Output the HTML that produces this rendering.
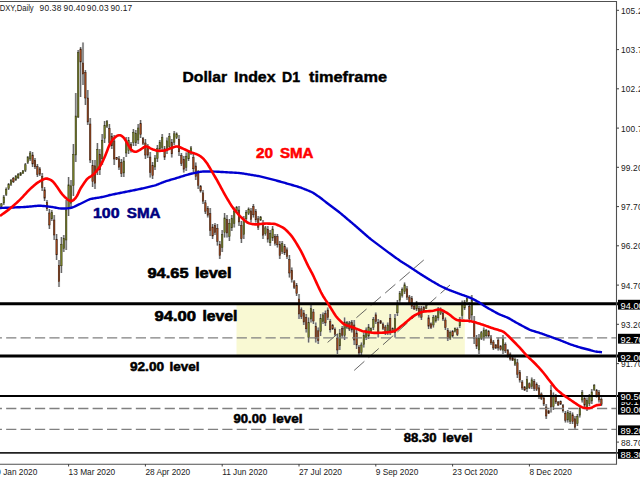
<!DOCTYPE html><html><head><meta charset="utf-8"><style>html,body{margin:0;padding:0;background:#fff;overflow:hidden}svg{display:block}</style></head><body><svg width="640" height="480" viewBox="0 0 640 480">
<rect width="640" height="480" fill="#fff"/>
<rect x="236.5" y="303.4" width="228.3" height="52.3" fill="#f9f9d3"/>
<path d="M1.4 203.0V207.5M3.8 195.0V205.0M6.2 187.5V196.0M8.6 183.0V190.0M11.0 179.0V186.0M13.4 177.0V183.0M15.8 175.0V181.0M18.2 173.0V179.0M20.6 172.0V176.0M23.0 170.0V174.0M25.4 163.0V172.0M27.8 156.0V164.0M30.2 151.0V161.0M32.6 152.0V167.0M35.0 158.0V169.0M37.4 164.0V177.0M39.8 167.0V176.0M42.2 173.0V191.0M44.6 187.0V201.0M47.0 200.0V211.0M49.4 209.0V229.0M51.8 210.0V221.0M54.2 215.0V240.0M56.6 234.0V260.0M59.0 260.0V287.0M61.4 237.0V273.0M63.8 235.0V252.0M66.2 200.0V250.0M68.6 177.0V216.0M71.0 180.0V209.0M73.4 144.0V196.0M75.8 93.0V162.0M78.2 50.0V118.0M80.6 47.0V97.0M83.0 42.5V85.0M85.4 70.0V105.0M87.8 90.0V125.0M90.2 118.0V163.0M92.6 160.0V187.0M95.0 160.0V189.0M97.4 143.0V175.0M99.8 149.0V175.0M102.2 134.0V165.0M104.6 121.0V143.0M107.0 120.0V128.0M109.4 124.0V147.0M111.8 133.0V149.0M114.2 135.0V165.0M116.6 157.0V160.0M119.0 156.0V170.0M121.4 159.0V177.0M123.8 157.0V177.0M126.2 137.0V157.0M128.6 137.0V154.0M131.0 142.0V152.5M133.4 129.0V146.0M135.8 130.0V146.0M138.2 124.0V144.0M140.6 120.0V138.0M143.0 137.0V145.0M145.4 139.0V159.0M147.8 144.0V158.0M150.2 152.0V177.5M152.6 162.0V179.0M155.0 155.0V170.0M157.4 145.0V162.0M159.8 140.0V151.0M162.2 134.0V151.0M164.6 146.0V160.0M167.0 137.5V154.0M169.4 133.0V150.0M171.8 139.0V157.5M174.2 131.0V145.0M176.6 132.5V139.0M179.0 135.0V156.0M181.4 153.0V166.0M183.8 156.0V172.5M186.2 152.5V171.0M188.6 150.0V161.0M191.0 146.0V155.0M193.4 154.0V172.5M195.8 162.5V180.0M198.2 170.0V189.0M200.6 185.0V192.5M203.0 190.0V204.0M205.4 200.0V214.0M207.8 206.0V217.5M210.2 208.0V236.0M212.6 224.0V239.0M215.0 223.0V235.0M217.4 224.0V245.6M219.8 241.0V259.0M222.2 230.0V252.0M224.6 213.0V237.5M227.0 215.0V237.5M229.4 219.0V241.0M231.8 215.0V231.0M234.2 207.5V227.5M236.6 206.0V212.5M239.0 206.0V226.0M241.4 221.0V243.0M243.8 216.0V239.0M246.2 210.0V221.0M248.6 207.5V215.0M251.0 208.0V222.5M253.4 204.0V217.5M255.8 209.0V222.5M258.2 216.0V230.0M260.6 216.0V221.0M263.0 220.0V239.0M265.4 226.0V235.6M267.8 226.0V242.5M270.2 230.0V246.0M272.6 226.0V241.0M275.0 234.0V245.6M277.4 234.0V247.5M279.8 241.0V259.0M282.2 241.0V254.0M284.6 244.0V255.0M287.0 247.5V259.0M289.4 255.0V277.5M291.8 267.5V282.5M294.2 280.0V289.0M296.6 283.0V296.0M299.0 294.0V319.0M301.4 307.5V319.0M303.8 310.0V325.0M306.2 314.0V332.5M308.6 317.5V342.5M311.0 305.0V322.5M313.4 309.0V324.0M315.8 322.5V342.5M318.2 327.5V344.0M320.6 314.0V336.0M323.0 312.5V324.0M325.4 310.6V326.0M327.8 307.5V320.0M330.2 319.0V332.5M332.6 324.0V330.0M335.0 327.5V336.0M337.4 334.0V354.0M339.8 329.0V350.0M342.2 326.0V337.5M344.6 317.5V340.0M347.0 321.0V329.0M349.4 321.0V331.0M351.8 320.0V332.5M354.2 320.0V345.0M356.6 329.0V349.0M359.0 345.0V355.0M361.4 342.5V355.0M363.8 332.5V347.5M366.2 327.5V340.0M368.6 324.0V339.0M371.0 327.5V332.5M373.4 317.0V330.0M375.8 312.5V324.0M378.2 319.0V337.5M380.6 320.0V324.0M383.0 322.5V330.0M385.4 325.0V335.0M387.8 322.5V335.0M390.2 314.0V335.0M392.6 327.5V332.5M395.0 314.0V337.5M397.4 300.0V316.0M399.8 291.0V302.5M402.2 287.5V297.5M404.6 282.5V294.0M407.0 286.0V300.0M409.4 295.0V305.0M411.8 296.0V309.0M414.2 305.0V310.0M416.6 301.0V311.0M419.0 306.0V317.5M421.4 306.0V320.0M423.8 306.0V312.5M426.2 305.0V309.0M428.6 315.0V329.0M431.0 322.5V329.0M433.4 315.0V327.5M435.8 315.0V322.5M438.2 307.0V320.6M440.6 307.5V315.0M443.0 311.0V321.0M445.4 317.5V330.0M447.8 328.0V341.0M450.2 330.6V340.0M452.6 330.0V337.5M455.0 327.5V332.5M457.4 327.5V336.0M459.8 317.0V328.0M462.2 300.6V319.0M464.6 300.0V310.0M467.0 297.5V302.5M469.4 302.5V322.5M471.8 295.0V320.0M474.2 316.0V344.0M476.6 335.0V349.0M479.0 334.0V354.0M481.4 331.0V340.0M483.8 327.5V340.6M486.2 329.0V337.5M488.6 330.0V337.5M491.0 335.0V345.0M493.4 340.0V350.0M495.8 344.0V349.0M498.2 337.5V350.6M500.6 345.0V350.6M503.0 335.0V354.0M505.4 342.5V353.0M507.8 349.0V357.5M510.2 352.5V360.6M512.6 357.0V361.0M515.0 357.5V366.0M517.4 359.0V378.0M519.8 370.0V382.5M522.2 380.0V390.0M524.6 386.0V391.0M527.0 376.0V392.0M529.4 382.5V389.0M531.8 377.5V389.0M534.2 379.0V391.0M536.6 382.5V391.0M539.0 385.0V399.0M541.4 392.5V400.0M543.8 396.0V406.0M546.2 404.0V419.0M548.6 410.0V414.0M551.0 385.0V412.5M553.4 392.5V410.0M555.8 394.0V404.0M558.2 401.0V406.0M560.6 400.6V405.0M563.0 404.0V412.5M565.4 411.0V422.5M567.8 410.0V422.5M570.2 411.0V424.0M572.6 412.5V424.0M575.0 416.0V430.0M577.4 414.0V426.0M579.8 406.0V417.5M582.2 390.0V402.5M584.6 396.0V407.5M587.0 397.5V411.0M589.4 394.0V406.0M591.8 389.0V404.0M594.2 384.0V391.0M596.6 389.0V397.5M599.0 390.0V402.5M601.4 397.5V406.0" stroke="#c4c4c4" stroke-width="2.2" fill="none"/>
<path d="M1.4 203.0V207.5M3.8 195.0V205.0M6.2 187.5V196.0M8.6 183.0V190.0M11.0 179.0V186.0M13.4 177.0V183.0M15.8 175.0V181.0M18.2 173.0V179.0M20.6 172.0V176.0M23.0 170.0V174.0M25.4 163.0V172.0M27.8 156.0V164.0M30.2 151.0V161.0M32.6 152.0V167.0M35.0 158.0V169.0M37.4 164.0V177.0M39.8 167.0V176.0M42.2 173.0V191.0M44.6 187.0V201.0M47.0 200.0V211.0M49.4 209.0V229.0M51.8 210.0V221.0M54.2 215.0V240.0M56.6 234.0V260.0M59.0 260.0V287.0M61.4 237.0V273.0M63.8 235.0V252.0M66.2 200.0V250.0M68.6 177.0V216.0M71.0 180.0V209.0M73.4 144.0V196.0M75.8 93.0V162.0M78.2 50.0V118.0M80.6 47.0V97.0M83.0 42.5V85.0M85.4 70.0V105.0M87.8 90.0V125.0M90.2 118.0V163.0M92.6 160.0V187.0M95.0 160.0V189.0M97.4 143.0V175.0M99.8 149.0V175.0M102.2 134.0V165.0M104.6 121.0V143.0M107.0 120.0V128.0M109.4 124.0V147.0M111.8 133.0V149.0M114.2 135.0V165.0M116.6 157.0V160.0M119.0 156.0V170.0M121.4 159.0V177.0M123.8 157.0V177.0M126.2 137.0V157.0M128.6 137.0V154.0M131.0 142.0V152.5M133.4 129.0V146.0M135.8 130.0V146.0M138.2 124.0V144.0M140.6 120.0V138.0M143.0 137.0V145.0M145.4 139.0V159.0M147.8 144.0V158.0M150.2 152.0V177.5M152.6 162.0V179.0M155.0 155.0V170.0M157.4 145.0V162.0M159.8 140.0V151.0M162.2 134.0V151.0M164.6 146.0V160.0M167.0 137.5V154.0M169.4 133.0V150.0M171.8 139.0V157.5M174.2 131.0V145.0M176.6 132.5V139.0M179.0 135.0V156.0M181.4 153.0V166.0M183.8 156.0V172.5M186.2 152.5V171.0M188.6 150.0V161.0M191.0 146.0V155.0M193.4 154.0V172.5M195.8 162.5V180.0M198.2 170.0V189.0M200.6 185.0V192.5M203.0 190.0V204.0M205.4 200.0V214.0M207.8 206.0V217.5M210.2 208.0V236.0M212.6 224.0V239.0M215.0 223.0V235.0M217.4 224.0V245.6M219.8 241.0V259.0M222.2 230.0V252.0M224.6 213.0V237.5M227.0 215.0V237.5M229.4 219.0V241.0M231.8 215.0V231.0M234.2 207.5V227.5M236.6 206.0V212.5M239.0 206.0V226.0M241.4 221.0V243.0M243.8 216.0V239.0M246.2 210.0V221.0M248.6 207.5V215.0M251.0 208.0V222.5M253.4 204.0V217.5M255.8 209.0V222.5M258.2 216.0V230.0M260.6 216.0V221.0M263.0 220.0V239.0M265.4 226.0V235.6M267.8 226.0V242.5M270.2 230.0V246.0M272.6 226.0V241.0M275.0 234.0V245.6M277.4 234.0V247.5M279.8 241.0V259.0M282.2 241.0V254.0M284.6 244.0V255.0M287.0 247.5V259.0M289.4 255.0V277.5M291.8 267.5V282.5M294.2 280.0V289.0M296.6 283.0V296.0M299.0 294.0V319.0M301.4 307.5V319.0M303.8 310.0V325.0M306.2 314.0V332.5M308.6 317.5V342.5M311.0 305.0V322.5M313.4 309.0V324.0M315.8 322.5V342.5M318.2 327.5V344.0M320.6 314.0V336.0M323.0 312.5V324.0M325.4 310.6V326.0M327.8 307.5V320.0M330.2 319.0V332.5M332.6 324.0V330.0M335.0 327.5V336.0M337.4 334.0V354.0M339.8 329.0V350.0M342.2 326.0V337.5M344.6 317.5V340.0M347.0 321.0V329.0M349.4 321.0V331.0M351.8 320.0V332.5M354.2 320.0V345.0M356.6 329.0V349.0M359.0 345.0V355.0M361.4 342.5V355.0M363.8 332.5V347.5M366.2 327.5V340.0M368.6 324.0V339.0M371.0 327.5V332.5M373.4 317.0V330.0M375.8 312.5V324.0M378.2 319.0V337.5M380.6 320.0V324.0M383.0 322.5V330.0M385.4 325.0V335.0M387.8 322.5V335.0M390.2 314.0V335.0M392.6 327.5V332.5M395.0 314.0V337.5M397.4 300.0V316.0M399.8 291.0V302.5M402.2 287.5V297.5M404.6 282.5V294.0M407.0 286.0V300.0M409.4 295.0V305.0M411.8 296.0V309.0M414.2 305.0V310.0M416.6 301.0V311.0M419.0 306.0V317.5M421.4 306.0V320.0M423.8 306.0V312.5M426.2 305.0V309.0M428.6 315.0V329.0M431.0 322.5V329.0M433.4 315.0V327.5M435.8 315.0V322.5M438.2 307.0V320.6M440.6 307.5V315.0M443.0 311.0V321.0M445.4 317.5V330.0M447.8 328.0V341.0M450.2 330.6V340.0M452.6 330.0V337.5M455.0 327.5V332.5M457.4 327.5V336.0M459.8 317.0V328.0M462.2 300.6V319.0M464.6 300.0V310.0M467.0 297.5V302.5M469.4 302.5V322.5M471.8 295.0V320.0M474.2 316.0V344.0M476.6 335.0V349.0M479.0 334.0V354.0M481.4 331.0V340.0M483.8 327.5V340.6M486.2 329.0V337.5M488.6 330.0V337.5M491.0 335.0V345.0M493.4 340.0V350.0M495.8 344.0V349.0M498.2 337.5V350.6M500.6 345.0V350.6M503.0 335.0V354.0M505.4 342.5V353.0M507.8 349.0V357.5M510.2 352.5V360.6M512.6 357.0V361.0M515.0 357.5V366.0M517.4 359.0V378.0M519.8 370.0V382.5M522.2 380.0V390.0M524.6 386.0V391.0M527.0 376.0V392.0M529.4 382.5V389.0M531.8 377.5V389.0M534.2 379.0V391.0M536.6 382.5V391.0M539.0 385.0V399.0M541.4 392.5V400.0M543.8 396.0V406.0M546.2 404.0V419.0M548.6 410.0V414.0M551.0 385.0V412.5M553.4 392.5V410.0M555.8 394.0V404.0M558.2 401.0V406.0M560.6 400.6V405.0M563.0 404.0V412.5M565.4 411.0V422.5M567.8 410.0V422.5M570.2 411.0V424.0M572.6 412.5V424.0M575.0 416.0V430.0M577.4 414.0V426.0M579.8 406.0V417.5M582.2 390.0V402.5M584.6 396.0V407.5M587.0 397.5V411.0M589.4 394.0V406.0M591.8 389.0V404.0M594.2 384.0V391.0M596.6 389.0V397.5M599.0 390.0V402.5M601.4 397.5V406.0" stroke="#505050" stroke-width="0.9" fill="none"/>
<g fill="#7a8428" stroke="#30300c" stroke-width="0.45"><rect x="0.70" y="203.9" width="1.4" height="2.7"/><rect x="3.10" y="197.0" width="1.4" height="6.0"/><rect x="5.50" y="189.2" width="1.4" height="5.1"/><rect x="7.90" y="184.4" width="1.4" height="4.2"/><rect x="10.30" y="180.4" width="1.4" height="4.2"/><rect x="15.10" y="176.2" width="1.4" height="3.6"/><rect x="17.50" y="174.2" width="1.4" height="3.6"/><rect x="19.90" y="172.8" width="1.4" height="2.4"/><rect x="22.30" y="170.8" width="1.4" height="2.4"/><rect x="24.70" y="164.8" width="1.4" height="5.4"/><rect x="27.10" y="157.6" width="1.4" height="4.8"/><rect x="29.50" y="153.0" width="1.4" height="6.0"/><rect x="51.10" y="212.2" width="1.4" height="6.6"/><rect x="60.70" y="244.2" width="1.4" height="21.6"/><rect x="63.10" y="238.4" width="1.4" height="10.2"/><rect x="65.50" y="210.0" width="1.4" height="30.0"/><rect x="67.90" y="184.8" width="1.4" height="23.4"/><rect x="70.30" y="185.8" width="1.4" height="17.4"/><rect x="72.70" y="154.4" width="1.4" height="31.2"/><rect x="75.10" y="116.0" width="1.4" height="39.0"/><rect x="77.50" y="52.5" width="1.4" height="64.5"/><rect x="96.70" y="149.4" width="1.4" height="19.2"/><rect x="101.50" y="140.2" width="1.4" height="18.6"/><rect x="103.90" y="125.4" width="1.4" height="13.2"/><rect x="106.30" y="121.6" width="1.4" height="4.8"/><rect x="123.10" y="161.0" width="1.4" height="12.0"/><rect x="125.50" y="141.0" width="1.4" height="12.0"/><rect x="127.90" y="140.4" width="1.4" height="10.2"/><rect x="132.70" y="132.4" width="1.4" height="10.2"/><rect x="135.10" y="133.2" width="1.4" height="9.6"/><rect x="137.50" y="128.0" width="1.4" height="12.0"/><rect x="154.30" y="158.0" width="1.4" height="9.0"/><rect x="156.70" y="148.4" width="1.4" height="10.2"/><rect x="159.10" y="142.2" width="1.4" height="6.6"/><rect x="161.50" y="137.4" width="1.4" height="10.2"/><rect x="166.30" y="140.8" width="1.4" height="9.9"/><rect x="168.70" y="136.4" width="1.4" height="10.2"/><rect x="173.50" y="133.8" width="1.4" height="8.4"/><rect x="175.90" y="133.8" width="1.4" height="3.9"/><rect x="185.50" y="156.2" width="1.4" height="11.1"/><rect x="187.90" y="152.2" width="1.4" height="6.6"/><rect x="190.30" y="147.8" width="1.4" height="5.4"/><rect x="221.50" y="234.4" width="1.4" height="13.2"/><rect x="223.90" y="217.9" width="1.4" height="14.7"/><rect x="228.70" y="223.4" width="1.4" height="13.2"/><rect x="231.10" y="218.2" width="1.4" height="9.6"/><rect x="233.50" y="211.5" width="1.4" height="12.0"/><rect x="235.90" y="207.3" width="1.4" height="3.9"/><rect x="243.10" y="220.6" width="1.4" height="13.8"/><rect x="245.50" y="212.2" width="1.4" height="6.6"/><rect x="247.90" y="209.0" width="1.4" height="4.5"/><rect x="259.90" y="217.0" width="1.4" height="3.0"/><rect x="264.70" y="227.9" width="1.4" height="5.8"/><rect x="269.50" y="233.2" width="1.4" height="9.6"/><rect x="271.90" y="229.0" width="1.4" height="9.0"/><rect x="281.50" y="243.6" width="1.4" height="7.8"/><rect x="307.90" y="322.5" width="1.4" height="15.0"/><rect x="310.30" y="308.5" width="1.4" height="10.5"/><rect x="319.90" y="318.4" width="1.4" height="13.2"/><rect x="322.30" y="314.8" width="1.4" height="6.9"/><rect x="339.10" y="333.2" width="1.4" height="12.6"/><rect x="343.90" y="322.0" width="1.4" height="13.5"/><rect x="346.30" y="322.6" width="1.4" height="4.8"/><rect x="360.70" y="345.0" width="1.4" height="7.5"/><rect x="363.10" y="335.5" width="1.4" height="9.0"/><rect x="365.50" y="330.0" width="1.4" height="7.5"/><rect x="367.90" y="327.0" width="1.4" height="9.0"/><rect x="370.30" y="328.5" width="1.4" height="3.0"/><rect x="372.70" y="319.6" width="1.4" height="7.8"/><rect x="387.10" y="325.0" width="1.4" height="7.5"/><rect x="394.30" y="318.7" width="1.4" height="14.1"/><rect x="396.70" y="303.2" width="1.4" height="9.6"/><rect x="399.10" y="293.3" width="1.4" height="6.9"/><rect x="401.50" y="289.5" width="1.4" height="6.0"/><rect x="403.90" y="284.8" width="1.4" height="6.9"/><rect x="415.90" y="303.0" width="1.4" height="6.0"/><rect x="425.50" y="305.8" width="1.4" height="2.4"/><rect x="432.70" y="317.5" width="1.4" height="7.5"/><rect x="435.10" y="316.5" width="1.4" height="4.5"/><rect x="437.50" y="309.7" width="1.4" height="8.2"/><rect x="439.90" y="309.0" width="1.4" height="4.5"/><rect x="449.50" y="332.5" width="1.4" height="5.6"/><rect x="454.30" y="328.5" width="1.4" height="3.0"/><rect x="459.10" y="319.2" width="1.4" height="6.6"/><rect x="461.50" y="304.3" width="1.4" height="11.0"/><rect x="463.90" y="302.0" width="1.4" height="6.0"/><rect x="466.30" y="298.5" width="1.4" height="3.0"/><rect x="471.10" y="300.0" width="1.4" height="15.0"/><rect x="478.30" y="338.0" width="1.4" height="12.0"/><rect x="480.70" y="332.8" width="1.4" height="5.4"/><rect x="483.10" y="330.1" width="1.4" height="7.9"/><rect x="485.50" y="330.7" width="1.4" height="5.1"/><rect x="502.30" y="338.8" width="1.4" height="11.4"/><rect x="514.30" y="359.2" width="1.4" height="5.1"/><rect x="526.30" y="379.2" width="1.4" height="9.6"/><rect x="531.10" y="379.8" width="1.4" height="6.9"/><rect x="552.70" y="396.0" width="1.4" height="10.5"/><rect x="567.10" y="412.5" width="1.4" height="7.5"/><rect x="569.50" y="413.6" width="1.4" height="7.8"/><rect x="576.70" y="416.4" width="1.4" height="7.2"/><rect x="579.10" y="408.3" width="1.4" height="6.9"/><rect x="581.50" y="392.5" width="1.4" height="7.5"/><rect x="586.30" y="400.2" width="1.4" height="8.1"/><rect x="588.70" y="396.4" width="1.4" height="7.2"/><rect x="591.10" y="392.0" width="1.4" height="9.0"/><rect x="593.50" y="385.4" width="1.4" height="4.2"/></g>
<g fill="#a44a1c" stroke="#301608" stroke-width="0.45"><rect x="12.70" y="178.2" width="1.4" height="3.6"/><rect x="31.90" y="155.0" width="1.4" height="9.0"/><rect x="34.30" y="160.2" width="1.4" height="6.6"/><rect x="36.70" y="166.6" width="1.4" height="7.8"/><rect x="39.10" y="168.8" width="1.4" height="5.4"/><rect x="41.50" y="176.6" width="1.4" height="10.8"/><rect x="43.90" y="189.8" width="1.4" height="8.4"/><rect x="46.30" y="202.2" width="1.4" height="6.6"/><rect x="48.70" y="213.0" width="1.4" height="12.0"/><rect x="53.50" y="220.0" width="1.4" height="15.0"/><rect x="55.90" y="239.2" width="1.4" height="15.6"/><rect x="58.30" y="265.4" width="1.4" height="16.2"/><rect x="79.90" y="49.0" width="1.4" height="13.0"/><rect x="82.30" y="63.0" width="1.4" height="11.0"/><rect x="84.70" y="72.5" width="1.4" height="25.5"/><rect x="87.10" y="98.0" width="1.4" height="24.0"/><rect x="89.50" y="124.0" width="1.4" height="36.0"/><rect x="91.90" y="165.4" width="1.4" height="16.2"/><rect x="94.30" y="165.8" width="1.4" height="17.4"/><rect x="99.10" y="154.2" width="1.4" height="15.6"/><rect x="108.70" y="128.6" width="1.4" height="13.8"/><rect x="111.10" y="136.2" width="1.4" height="9.6"/><rect x="113.50" y="141.0" width="1.4" height="18.0"/><rect x="115.90" y="157.6" width="1.4" height="1.8"/><rect x="118.30" y="158.8" width="1.4" height="8.4"/><rect x="120.70" y="162.6" width="1.4" height="10.8"/><rect x="130.30" y="144.1" width="1.4" height="6.3"/><rect x="139.90" y="123.6" width="1.4" height="10.8"/><rect x="142.30" y="138.6" width="1.4" height="4.8"/><rect x="144.70" y="143.0" width="1.4" height="12.0"/><rect x="147.10" y="146.8" width="1.4" height="8.4"/><rect x="149.50" y="157.1" width="1.4" height="15.3"/><rect x="151.90" y="165.4" width="1.4" height="10.2"/><rect x="163.90" y="148.8" width="1.4" height="8.4"/><rect x="171.10" y="142.7" width="1.4" height="11.1"/><rect x="178.30" y="139.2" width="1.4" height="12.6"/><rect x="180.70" y="155.6" width="1.4" height="7.8"/><rect x="183.10" y="159.3" width="1.4" height="9.9"/><rect x="192.70" y="157.7" width="1.4" height="11.1"/><rect x="195.10" y="166.0" width="1.4" height="10.5"/><rect x="197.50" y="173.8" width="1.4" height="11.4"/><rect x="199.90" y="186.5" width="1.4" height="4.5"/><rect x="202.30" y="192.8" width="1.4" height="8.4"/><rect x="204.70" y="202.8" width="1.4" height="8.4"/><rect x="207.10" y="208.3" width="1.4" height="6.9"/><rect x="209.50" y="213.6" width="1.4" height="16.8"/><rect x="211.90" y="227.0" width="1.4" height="9.0"/><rect x="214.30" y="225.4" width="1.4" height="7.2"/><rect x="216.70" y="228.3" width="1.4" height="13.0"/><rect x="219.10" y="244.6" width="1.4" height="10.8"/><rect x="226.30" y="219.5" width="1.4" height="13.5"/><rect x="238.30" y="210.0" width="1.4" height="12.0"/><rect x="240.70" y="225.4" width="1.4" height="13.2"/><rect x="250.30" y="210.9" width="1.4" height="8.7"/><rect x="252.70" y="206.7" width="1.4" height="8.1"/><rect x="255.10" y="211.7" width="1.4" height="8.1"/><rect x="257.50" y="218.8" width="1.4" height="8.4"/><rect x="262.30" y="223.8" width="1.4" height="11.4"/><rect x="267.10" y="229.3" width="1.4" height="9.9"/><rect x="274.30" y="236.3" width="1.4" height="7.0"/><rect x="276.70" y="236.7" width="1.4" height="8.1"/><rect x="279.10" y="244.6" width="1.4" height="10.8"/><rect x="283.90" y="246.2" width="1.4" height="6.6"/><rect x="286.30" y="249.8" width="1.4" height="6.9"/><rect x="288.70" y="259.5" width="1.4" height="13.5"/><rect x="291.10" y="270.5" width="1.4" height="9.0"/><rect x="293.50" y="281.8" width="1.4" height="5.4"/><rect x="295.90" y="285.6" width="1.4" height="7.8"/><rect x="298.30" y="299.0" width="1.4" height="15.0"/><rect x="300.70" y="309.8" width="1.4" height="6.9"/><rect x="303.10" y="313.0" width="1.4" height="9.0"/><rect x="305.50" y="317.7" width="1.4" height="11.1"/><rect x="312.70" y="312.0" width="1.4" height="9.0"/><rect x="315.10" y="326.5" width="1.4" height="12.0"/><rect x="317.50" y="330.8" width="1.4" height="9.9"/><rect x="324.70" y="313.7" width="1.4" height="9.2"/><rect x="327.10" y="310.0" width="1.4" height="7.5"/><rect x="329.50" y="321.7" width="1.4" height="8.1"/><rect x="331.90" y="325.2" width="1.4" height="3.6"/><rect x="334.30" y="329.2" width="1.4" height="5.1"/><rect x="336.70" y="338.0" width="1.4" height="12.0"/><rect x="341.50" y="328.3" width="1.4" height="6.9"/><rect x="348.70" y="323.0" width="1.4" height="6.0"/><rect x="351.10" y="322.5" width="1.4" height="7.5"/><rect x="353.50" y="325.0" width="1.4" height="15.0"/><rect x="355.90" y="333.0" width="1.4" height="12.0"/><rect x="358.30" y="347.0" width="1.4" height="6.0"/><rect x="375.10" y="314.8" width="1.4" height="6.9"/><rect x="377.50" y="322.7" width="1.4" height="11.1"/><rect x="379.90" y="320.8" width="1.4" height="2.4"/><rect x="382.30" y="324.0" width="1.4" height="4.5"/><rect x="384.70" y="327.0" width="1.4" height="6.0"/><rect x="389.50" y="318.2" width="1.4" height="12.6"/><rect x="391.90" y="328.5" width="1.4" height="3.0"/><rect x="406.30" y="288.8" width="1.4" height="8.4"/><rect x="408.70" y="297.0" width="1.4" height="6.0"/><rect x="411.10" y="298.6" width="1.4" height="7.8"/><rect x="413.50" y="306.0" width="1.4" height="3.0"/><rect x="418.30" y="308.3" width="1.4" height="6.9"/><rect x="420.70" y="308.8" width="1.4" height="8.4"/><rect x="423.10" y="307.3" width="1.4" height="3.9"/><rect x="427.90" y="317.8" width="1.4" height="8.4"/><rect x="430.30" y="323.8" width="1.4" height="3.9"/><rect x="442.30" y="313.0" width="1.4" height="6.0"/><rect x="444.70" y="320.0" width="1.4" height="7.5"/><rect x="447.10" y="330.6" width="1.4" height="7.8"/><rect x="451.90" y="331.5" width="1.4" height="4.5"/><rect x="456.70" y="329.2" width="1.4" height="5.1"/><rect x="468.70" y="306.5" width="1.4" height="12.0"/><rect x="473.50" y="321.6" width="1.4" height="16.8"/><rect x="475.90" y="337.8" width="1.4" height="8.4"/><rect x="487.90" y="331.5" width="1.4" height="4.5"/><rect x="490.30" y="337.0" width="1.4" height="6.0"/><rect x="492.70" y="342.0" width="1.4" height="6.0"/><rect x="495.10" y="345.0" width="1.4" height="3.0"/><rect x="497.50" y="340.1" width="1.4" height="7.9"/><rect x="499.90" y="346.1" width="1.4" height="3.4"/><rect x="504.70" y="344.6" width="1.4" height="6.3"/><rect x="507.10" y="350.7" width="1.4" height="5.1"/><rect x="509.50" y="354.1" width="1.4" height="4.9"/><rect x="511.90" y="357.8" width="1.4" height="2.4"/><rect x="516.70" y="362.8" width="1.4" height="11.4"/><rect x="519.10" y="372.5" width="1.4" height="7.5"/><rect x="521.50" y="382.0" width="1.4" height="6.0"/><rect x="523.90" y="387.0" width="1.4" height="3.0"/><rect x="528.70" y="383.8" width="1.4" height="3.9"/><rect x="533.50" y="381.4" width="1.4" height="7.2"/><rect x="535.90" y="384.2" width="1.4" height="5.1"/><rect x="538.30" y="387.8" width="1.4" height="8.4"/><rect x="540.70" y="394.0" width="1.4" height="4.5"/><rect x="543.10" y="398.0" width="1.4" height="6.0"/><rect x="545.50" y="407.0" width="1.4" height="9.0"/><rect x="547.90" y="410.8" width="1.4" height="2.4"/><rect x="550.30" y="390.5" width="1.4" height="16.5"/><rect x="555.10" y="396.0" width="1.4" height="6.0"/><rect x="557.50" y="402.0" width="1.4" height="3.0"/><rect x="559.90" y="401.5" width="1.4" height="2.6"/><rect x="562.30" y="405.7" width="1.4" height="5.1"/><rect x="564.70" y="413.3" width="1.4" height="6.9"/><rect x="571.90" y="414.8" width="1.4" height="6.9"/><rect x="574.30" y="418.8" width="1.4" height="8.4"/><rect x="583.90" y="398.3" width="1.4" height="6.9"/><rect x="595.90" y="390.7" width="1.4" height="5.1"/><rect x="598.30" y="392.5" width="1.4" height="7.5"/><rect x="600.70" y="399.2" width="1.4" height="5.1"/></g>
<g stroke="#4a4a4a" stroke-width="0.85" fill="none"><path d="M327.6 342.4L423.75 260" stroke-dasharray="13.43 5.53"/><path d="M354.2 370.4L450 285" stroke-dasharray="13.66 5.62"/></g>
<path d="M0 303.75H618" stroke="#000" stroke-width="3"/>
<path d="M0 356.08H618" stroke="#000" stroke-width="3"/>
<path d="M0 396.12H618" stroke="#000" stroke-width="2"/>
<path d="M0 452.90H618" stroke="#222" stroke-width="1.7"/>
<path d="M-8.26 337.87H616" stroke="#808080" stroke-width="1.3" stroke-dasharray="10.2 4.21"/>
<path d="M-8.26 408.52H616" stroke="#808080" stroke-width="1.3" stroke-dasharray="10.2 4.21"/>
<path d="M-8.26 429.45H616" stroke="#808080" stroke-width="1.3" stroke-dasharray="10.2 4.21"/>
<path d="M0.0 208.00L1.0 207.96L2.0 207.92L3.0 207.88L4.0 207.84L5.0 207.80L6.0 207.76L7.0 207.72L8.0 207.68L9.0 207.64L10.0 207.60L11.0 207.56L12.0 207.52L13.0 207.48L14.0 207.44L15.0 207.40L16.0 207.36L17.0 207.32L18.0 207.28L19.0 207.24L20.0 207.20L21.0 207.16L22.0 207.12L23.0 207.08L24.0 207.03L25.0 206.97L26.0 206.89L27.0 206.81L28.0 206.72L29.0 206.63L30.0 206.53L31.0 206.44L32.0 206.35L33.0 206.25L34.0 206.16L35.0 206.07L36.0 205.97L37.0 205.88L38.0 205.80L39.0 205.74L40.0 205.73L41.0 205.76L42.0 205.84L43.0 205.94L44.0 206.05L45.0 206.16L46.0 206.27L47.0 206.38L48.0 206.50L49.0 206.61L50.0 206.72L51.0 206.85L52.0 206.98L53.0 207.14L54.0 207.31L55.0 207.50L56.0 207.70L57.0 207.90L58.0 208.09L59.0 208.25L60.0 208.38L61.0 208.45L62.0 208.49L63.0 208.50L64.0 208.50L65.0 208.49L66.0 208.47L67.0 208.41L68.0 208.31L69.0 208.17L70.0 207.98L71.0 207.76L72.0 207.49L73.0 207.15L74.0 206.76L75.0 206.32L76.0 205.86L77.0 205.40L78.0 204.93L79.0 204.46L80.0 203.98L81.0 203.49L82.0 203.00L83.0 202.50L84.0 202.00L85.0 201.50L86.0 201.00L87.0 200.51L88.0 200.02L89.0 199.58L90.0 199.21L91.0 198.92L92.0 198.70L93.0 198.53L94.0 198.36L95.0 198.20L96.0 198.04L97.0 197.88L98.0 197.72L99.0 197.56L100.0 197.40L101.0 197.22L102.0 197.03L103.0 196.82L104.0 196.58L105.0 196.33L106.0 196.07L107.0 195.80L108.0 195.54L109.0 195.28L110.0 195.04L111.0 194.82L112.0 194.60L113.0 194.40L114.0 194.20L115.0 194.00L116.0 193.80L117.0 193.60L118.0 193.40L119.0 193.20L120.0 193.00L121.0 192.80L122.0 192.60L123.0 192.40L124.0 192.20L125.0 192.00L126.0 191.80L127.0 191.60L128.0 191.40L129.0 191.20L130.0 191.00L131.0 190.80L132.0 190.60L133.0 190.40L134.0 190.20L135.0 190.00L136.0 189.80L137.0 189.60L138.0 189.40L139.0 189.19L140.0 188.98L141.0 188.76L142.0 188.53L143.0 188.30L144.0 188.07L145.0 187.83L146.0 187.60L147.0 187.37L148.0 187.13L149.0 186.90L150.0 186.67L151.0 186.43L152.0 186.20L153.0 185.95L154.0 185.69L155.0 185.40L156.0 185.06L157.0 184.69L158.0 184.30L159.0 183.90L160.0 183.50L161.0 183.10L162.0 182.70L163.0 182.31L164.0 181.93L165.0 181.56L166.0 181.23L167.0 180.92L168.0 180.61L169.0 180.32L170.0 180.02L171.0 179.72L172.0 179.43L173.0 179.13L174.0 178.84L175.0 178.54L176.0 178.24L177.0 177.94L178.0 177.64L179.0 177.33L180.0 177.02L181.0 176.71L182.0 176.40L183.0 176.08L184.0 175.77L185.0 175.46L186.0 175.15L187.0 174.84L188.0 174.53L189.0 174.24L190.0 173.97L191.0 173.73L192.0 173.51L193.0 173.30L194.0 173.10L195.0 172.90L196.0 172.70L197.0 172.50L198.0 172.30L199.0 172.10L200.0 171.91L201.0 171.73L202.0 171.59L203.0 171.50L204.0 171.46L205.0 171.45L206.0 171.46L207.0 171.47L208.0 171.49L209.0 171.50L210.0 171.52L211.0 171.54L212.0 171.55L213.0 171.57L214.0 171.59L215.0 171.62L216.0 171.67L217.0 171.71L218.0 171.77L219.0 171.82L220.0 171.88L221.0 171.94L222.0 171.99L223.0 172.05L224.0 172.10L225.0 172.16L226.0 172.22L227.0 172.27L228.0 172.33L229.0 172.38L230.0 172.44L231.0 172.50L232.0 172.55L233.0 172.61L234.0 172.66L235.0 172.72L236.0 172.78L237.0 172.83L238.0 172.90L239.0 172.97L240.0 173.07L241.0 173.19L242.0 173.34L243.0 173.50L244.0 173.66L245.0 173.83L246.0 173.99L247.0 174.16L248.0 174.32L249.0 174.49L250.0 174.65L251.0 174.81L252.0 174.98L253.0 175.14L254.0 175.31L255.0 175.48L256.0 175.64L257.0 175.81L258.0 175.98L259.0 176.16L260.0 176.36L261.0 176.58L262.0 176.83L263.0 177.08L264.0 177.34L265.0 177.60L266.0 177.86L267.0 178.12L268.0 178.38L269.0 178.64L270.0 178.90L271.0 179.16L272.0 179.42L273.0 179.68L274.0 179.94L275.0 180.20L276.0 180.46L277.0 180.72L278.0 180.98L279.0 181.25L280.0 181.52L281.0 181.80L282.0 182.08L283.0 182.37L284.0 182.66L285.0 182.95L286.0 183.24L287.0 183.53L288.0 183.82L289.0 184.11L290.0 184.40L291.0 184.69L292.0 184.98L293.0 185.27L294.0 185.56L295.0 185.85L296.0 186.14L297.0 186.43L298.0 186.73L299.0 187.04L300.0 187.37L301.0 187.73L302.0 188.11L303.0 188.50L304.0 188.90L305.0 189.30L306.0 189.70L307.0 190.10L308.0 190.50L309.0 190.90L310.0 191.31L311.0 191.75L312.0 192.23L313.0 192.77L314.0 193.39L315.0 194.05L316.0 194.73L317.0 195.42L318.0 196.12L319.0 196.83L320.0 197.55L321.0 198.30L322.0 199.07L323.0 199.84L324.0 200.62L325.0 201.40L326.0 202.18L327.0 202.96L328.0 203.74L329.0 204.51L330.0 205.28L331.0 206.04L332.0 206.80L333.0 207.55L334.0 208.30L335.0 209.05L336.0 209.80L337.0 210.55L338.0 211.31L339.0 212.07L340.0 212.86L341.0 213.67L342.0 214.50L343.0 215.34L344.0 216.19L345.0 217.03L346.0 217.88L347.0 218.73L348.0 219.57L349.0 220.42L350.0 221.27L351.0 222.11L352.0 222.96L353.0 223.81L354.0 224.66L355.0 225.52L356.0 226.38L357.0 227.25L358.0 228.12L359.0 228.99L360.0 229.87L361.0 230.74L362.0 231.61L363.0 232.49L364.0 233.36L365.0 234.23L366.0 235.11L367.0 235.98L368.0 236.84L369.0 237.70L370.0 238.52L371.0 239.32L372.0 240.09L373.0 240.85L374.0 241.60L375.0 242.35L376.0 243.10L377.0 243.85L378.0 244.60L379.0 245.35L380.0 246.10L381.0 246.85L382.0 247.60L383.0 248.35L384.0 249.10L385.0 249.85L386.0 250.60L387.0 251.35L388.0 252.10L389.0 252.84L390.0 253.58L391.0 254.31L392.0 255.04L393.0 255.76L394.0 256.48L395.0 257.20L396.0 257.92L397.0 258.64L398.0 259.35L399.0 260.06L400.0 260.74L401.0 261.41L402.0 262.05L403.0 262.69L404.0 263.32L405.0 263.95L406.0 264.58L407.0 265.21L408.0 265.84L409.0 266.48L410.0 267.12L411.0 267.77L412.0 268.43L413.0 269.10L414.0 269.76L415.0 270.42L416.0 271.09L417.0 271.75L418.0 272.42L419.0 273.08L420.0 273.73L421.0 274.37L422.0 275.00L423.0 275.62L424.0 276.25L425.0 276.87L426.0 277.50L427.0 278.12L428.0 278.75L429.0 279.36L430.0 279.97L431.0 280.57L432.0 281.16L433.0 281.74L434.0 282.32L435.0 282.90L436.0 283.48L437.0 284.06L438.0 284.63L439.0 285.19L440.0 285.73L441.0 286.24L442.0 286.73L443.0 287.21L444.0 287.68L445.0 288.15L446.0 288.62L447.0 289.08L448.0 289.52L449.0 289.94L450.0 290.34L451.0 290.72L452.0 291.09L453.0 291.46L454.0 291.82L455.0 292.19L456.0 292.56L457.0 292.93L458.0 293.30L459.0 293.66L460.0 294.03L461.0 294.40L462.0 294.76L463.0 295.12L464.0 295.48L465.0 295.84L466.0 296.20L467.0 296.56L468.0 296.92L469.0 297.29L470.0 297.68L471.0 298.11L472.0 298.58L473.0 299.08L474.0 299.60L475.0 300.13L476.0 300.67L477.0 301.22L478.0 301.79L479.0 302.39L480.0 303.02L481.0 303.67L482.0 304.33L483.0 305.00L484.0 305.66L485.0 306.31L486.0 306.93L487.0 307.53L488.0 308.11L489.0 308.68L490.0 309.24L491.0 309.80L492.0 310.36L493.0 310.92L494.0 311.48L495.0 312.04L496.0 312.59L497.0 313.13L498.0 313.65L499.0 314.13L500.0 314.57L501.0 314.99L502.0 315.40L503.0 315.80L504.0 316.20L505.0 316.60L506.0 317.01L507.0 317.43L508.0 317.89L509.0 318.39L510.0 318.93L511.0 319.51L512.0 320.10L513.0 320.70L514.0 321.30L515.0 321.88L516.0 322.46L517.0 323.02L518.0 323.57L519.0 324.11L520.0 324.64L521.0 325.18L522.0 325.71L523.0 326.25L524.0 326.79L525.0 327.32L526.0 327.86L527.0 328.39L528.0 328.91L529.0 329.41L530.0 329.85L531.0 330.24L532.0 330.58L533.0 330.90L534.0 331.20L535.0 331.50L536.0 331.80L537.0 332.10L538.0 332.40L539.0 332.71L540.0 333.04L541.0 333.37L542.0 333.72L543.0 334.08L544.0 334.44L545.0 334.80L546.0 335.16L547.0 335.52L548.0 335.88L549.0 336.24L550.0 336.60L551.0 336.96L552.0 337.32L553.0 337.68L554.0 338.04L555.0 338.40L556.0 338.76L557.0 339.12L558.0 339.48L559.0 339.85L560.0 340.22L561.0 340.61L562.0 341.00L563.0 341.40L564.0 341.80L565.0 342.20L566.0 342.60L567.0 343.00L568.0 343.39L569.0 343.78L570.0 344.16L571.0 344.51L572.0 344.85L573.0 345.19L574.0 345.52L575.0 345.85L576.0 346.18L577.0 346.51L578.0 346.83L579.0 347.15L580.0 347.45L581.0 347.73L582.0 347.99L583.0 348.25L584.0 348.50L585.0 348.75L586.0 349.00L587.0 349.25L588.0 349.50L589.0 349.76L590.0 350.03L591.0 350.31L592.0 350.60L593.0 350.89L594.0 351.15L595.0 351.38L596.0 351.56L597.0 351.70L598.0 351.82L599.0 351.93L600.0 352.04L601.0 352.14L602.0 352.25" stroke="#0000d0" stroke-width="2.4" fill="none" stroke-linejoin="round"/>
<path d="M0.0 216.00L1.0 215.27L2.0 214.54L3.0 213.81L4.0 213.08L5.0 212.35L6.0 211.62L7.0 210.89L8.0 210.15L9.0 209.39L10.0 208.60L11.0 207.77L12.0 206.91L13.0 206.03L14.0 205.14L15.0 204.25L16.0 203.36L17.0 202.47L18.0 201.57L19.0 200.64L20.0 199.68L21.0 198.67L22.0 197.63L23.0 196.56L24.0 195.48L25.0 194.40L26.0 193.32L27.0 192.24L28.0 191.18L29.0 190.13L30.0 189.13L31.0 188.18L32.0 187.28L33.0 186.40L34.0 185.54L35.0 184.68L36.0 183.85L37.0 183.08L38.0 182.38L39.0 181.76L40.0 181.19L41.0 180.65L42.0 180.12L43.0 179.60L44.0 179.13L45.0 178.75L46.0 178.57L47.0 178.62L48.0 178.87L49.0 179.22L50.0 179.64L51.0 180.15L52.0 180.82L53.0 181.71L54.0 182.82L55.0 184.10L56.0 185.46L57.0 186.86L58.0 188.30L59.0 189.76L60.0 191.23L61.0 192.65L62.0 193.98L63.0 195.17L64.0 196.22L65.0 197.17L66.0 198.05L67.0 198.90L68.0 199.69L69.0 200.39L70.0 200.89L71.0 201.08L72.0 200.88L73.0 200.36L74.0 199.60L75.0 198.64L76.0 197.41L77.0 195.82L78.0 193.85L79.0 191.66L80.0 189.55L81.0 187.73L82.0 186.18L83.0 184.75L84.0 183.28L85.0 181.79L86.0 180.38L87.0 179.16L88.0 178.20L89.0 177.46L90.0 176.84L91.0 176.24L92.0 175.59L93.0 174.82L94.0 173.89L95.0 172.81L96.0 171.63L97.0 170.40L98.0 169.12L99.0 167.75L100.0 166.23L101.0 164.51L102.0 162.63L103.0 160.64L104.0 158.52L105.0 156.24L106.0 153.78L107.0 151.19L108.0 148.58L109.0 146.11L110.0 143.95L111.0 142.17L112.0 140.72L113.0 139.47L114.0 138.35L115.0 137.38L116.0 136.57L117.0 135.92L118.0 135.44L119.0 135.19L120.0 135.23L121.0 135.56L122.0 136.14L123.0 136.96L124.0 138.08L125.0 139.49L126.0 141.12L127.0 142.86L128.0 144.62L129.0 146.34L130.0 147.93L131.0 149.28L132.0 150.33L133.0 151.09L134.0 151.59L135.0 151.80L136.0 151.73L137.0 151.42L138.0 150.97L139.0 150.44L140.0 149.86L141.0 149.21L142.0 148.52L143.0 147.82L144.0 147.16L145.0 146.66L146.0 146.44L147.0 146.56L148.0 146.95L149.0 147.49L150.0 148.05L151.0 148.58L152.0 149.03L153.0 149.42L154.0 149.78L155.0 150.12L156.0 150.42L157.0 150.66L158.0 150.80L159.0 150.86L160.0 150.85L161.0 150.81L162.0 150.75L163.0 150.68L164.0 150.57L165.0 150.38L166.0 150.10L167.0 149.75L168.0 149.35L169.0 148.95L170.0 148.54L171.0 148.14L172.0 147.76L173.0 147.40L174.0 147.07L175.0 146.79L176.0 146.58L177.0 146.49L178.0 146.59L179.0 146.87L180.0 147.28L181.0 147.74L182.0 148.22L183.0 148.68L184.0 149.12L185.0 149.55L186.0 149.99L187.0 150.45L188.0 150.92L189.0 151.40L190.0 151.86L191.0 152.26L192.0 152.62L193.0 152.96L194.0 153.28L195.0 153.61L196.0 153.97L197.0 154.37L198.0 154.84L199.0 155.38L200.0 155.99L201.0 156.67L202.0 157.46L203.0 158.40L204.0 159.48L205.0 160.67L206.0 161.96L207.0 163.34L208.0 164.84L209.0 166.45L210.0 168.14L211.0 169.87L212.0 171.60L213.0 173.33L214.0 175.04L215.0 176.76L216.0 178.48L217.0 180.22L218.0 182.00L219.0 183.83L220.0 185.67L221.0 187.53L222.0 189.40L223.0 191.25L224.0 193.08L225.0 194.88L226.0 196.62L227.0 198.32L228.0 200.00L229.0 201.66L230.0 203.31L231.0 204.92L232.0 206.45L233.0 207.87L234.0 209.17L235.0 210.39L236.0 211.58L237.0 212.75L238.0 213.90L239.0 215.02L240.0 216.09L241.0 217.09L242.0 218.03L243.0 218.95L244.0 219.84L245.0 220.72L246.0 221.54L247.0 222.26L248.0 222.81L249.0 223.21L250.0 223.50L251.0 223.74L252.0 223.95L253.0 224.15L254.0 224.31L255.0 224.40L256.0 224.41L257.0 224.36L258.0 224.27L259.0 224.16L260.0 224.05L261.0 223.94L262.0 223.83L263.0 223.73L264.0 223.64L265.0 223.59L266.0 223.56L267.0 223.57L268.0 223.59L269.0 223.62L270.0 223.65L271.0 223.68L272.0 223.72L273.0 223.77L274.0 223.88L275.0 224.07L276.0 224.37L277.0 224.76L278.0 225.21L279.0 225.67L280.0 226.13L281.0 226.61L282.0 227.10L283.0 227.66L284.0 228.33L285.0 229.13L286.0 230.04L287.0 231.01L288.0 232.01L289.0 233.04L290.0 234.12L291.0 235.31L292.0 236.62L293.0 238.04L294.0 239.52L295.0 241.06L296.0 242.64L297.0 244.29L298.0 245.98L299.0 247.70L300.0 249.45L301.0 251.24L302.0 253.11L303.0 255.10L304.0 257.20L305.0 259.38L306.0 261.56L307.0 263.67L308.0 265.69L309.0 267.60L310.0 269.45L311.0 271.29L312.0 273.20L313.0 275.20L314.0 277.30L315.0 279.46L316.0 281.66L317.0 283.84L318.0 286.00L319.0 288.13L320.0 290.22L321.0 292.25L322.0 294.17L323.0 295.95L324.0 297.58L325.0 299.11L326.0 300.60L327.0 302.09L328.0 303.61L329.0 305.17L330.0 306.77L331.0 308.38L332.0 310.01L333.0 311.63L334.0 313.22L335.0 314.76L336.0 316.19L337.0 317.47L338.0 318.61L339.0 319.66L340.0 320.67L341.0 321.65L342.0 322.59L343.0 323.43L344.0 324.13L345.0 324.67L346.0 325.09L347.0 325.45L348.0 325.78L349.0 326.10L350.0 326.43L351.0 326.76L352.0 327.09L353.0 327.45L354.0 327.82L355.0 328.21L356.0 328.60L357.0 329.00L358.0 329.40L359.0 329.80L360.0 330.19L361.0 330.56L362.0 330.90L363.0 331.18L364.0 331.40L365.0 331.59L366.0 331.76L367.0 331.92L368.0 332.08L369.0 332.24L370.0 332.40L371.0 332.55L372.0 332.70L373.0 332.81L374.0 332.89L375.0 332.92L376.0 332.91L377.0 332.88L378.0 332.85L379.0 332.81L380.0 332.78L381.0 332.74L382.0 332.71L383.0 332.67L384.0 332.62L385.0 332.55L386.0 332.46L387.0 332.36L388.0 332.25L389.0 332.13L390.0 332.01L391.0 331.89L392.0 331.75L393.0 331.55L394.0 331.24L395.0 330.77L396.0 330.16L397.0 329.44L398.0 328.68L399.0 327.91L400.0 327.13L401.0 326.34L402.0 325.56L403.0 324.76L404.0 323.94L405.0 323.10L406.0 322.24L407.0 321.38L408.0 320.51L409.0 319.65L410.0 318.78L411.0 317.93L412.0 317.12L413.0 316.38L414.0 315.73L415.0 315.17L416.0 314.66L417.0 314.16L418.0 313.68L419.0 313.20L420.0 312.73L421.0 312.29L422.0 311.93L423.0 311.66L424.0 311.49L425.0 311.39L426.0 311.33L427.0 311.28L428.0 311.22L429.0 311.17L430.0 311.12L431.0 311.04L432.0 310.93L433.0 310.77L434.0 310.57L435.0 310.32L436.0 310.07L437.0 309.81L438.0 309.59L439.0 309.47L440.0 309.51L441.0 309.76L442.0 310.18L443.0 310.69L444.0 311.24L445.0 311.80L446.0 312.36L447.0 312.95L448.0 313.59L449.0 314.28L450.0 315.04L451.0 315.85L452.0 316.67L453.0 317.49L454.0 318.28L455.0 318.99L456.0 319.56L457.0 319.95L458.0 320.19L459.0 320.34L460.0 320.45L461.0 320.54L462.0 320.60L463.0 320.64L464.0 320.67L465.0 320.69L466.0 320.71L467.0 320.74L468.0 320.78L469.0 320.85L470.0 320.97L471.0 321.17L472.0 321.43L473.0 321.72L474.0 322.02L475.0 322.32L476.0 322.62L477.0 322.93L478.0 323.23L479.0 323.54L480.0 323.84L481.0 324.15L482.0 324.47L483.0 324.80L484.0 325.15L485.0 325.50L486.0 325.86L487.0 326.22L488.0 326.58L489.0 326.94L490.0 327.30L491.0 327.65L492.0 328.00L493.0 328.33L494.0 328.64L495.0 328.95L496.0 329.26L497.0 329.56L498.0 329.86L499.0 330.16L500.0 330.47L501.0 330.79L502.0 331.15L503.0 331.60L504.0 332.20L505.0 332.97L506.0 333.86L507.0 334.82L508.0 335.79L509.0 336.78L510.0 337.77L511.0 338.76L512.0 339.76L513.0 340.76L514.0 341.77L515.0 342.77L516.0 343.78L517.0 344.79L518.0 345.80L519.0 346.84L520.0 347.91L521.0 349.03L522.0 350.18L523.0 351.35L524.0 352.52L525.0 353.67L526.0 354.77L527.0 355.82L528.0 356.81L529.0 357.77L530.0 358.71L531.0 359.65L532.0 360.59L533.0 361.54L534.0 362.50L535.0 363.49L536.0 364.51L537.0 365.57L538.0 366.64L539.0 367.72L540.0 368.81L541.0 369.92L542.0 371.06L543.0 372.25L544.0 373.50L545.0 374.78L546.0 376.08L547.0 377.38L548.0 378.69L549.0 379.99L550.0 381.28L551.0 382.57L552.0 383.86L553.0 385.14L554.0 386.40L555.0 387.60L556.0 388.72L557.0 389.72L558.0 390.63L559.0 391.48L560.0 392.32L561.0 393.13L562.0 393.93L563.0 394.69L564.0 395.42L565.0 396.13L566.0 396.83L567.0 397.53L568.0 398.22L569.0 398.91L570.0 399.60L571.0 400.28L572.0 400.96L573.0 401.64L574.0 402.32L575.0 402.99L576.0 403.66L577.0 404.33L578.0 404.99L579.0 405.64L580.0 406.23L581.0 406.73L582.0 407.13L583.0 407.43L584.0 407.68L585.0 407.90L586.0 408.09L587.0 408.20L588.0 408.21L589.0 408.13L590.0 407.96L591.0 407.72L592.0 407.38L593.0 406.93L594.0 406.40L595.0 405.85L596.0 405.41L597.0 405.12L598.0 404.96L599.0 404.87L600.0 404.82L601.0 404.77" stroke="#ff0000" stroke-width="2.6" fill="none" stroke-linejoin="round"/>
<path d="M0 1.5H616.5V464.2H0" stroke="#505050" stroke-width="1.1" fill="none"/>
<text x="182.50" y="82.0" textLength="44.51" lengthAdjust="spacingAndGlyphs" style="font-family:'Liberation Sans',sans-serif;font-weight:bold;font-size:14.0px" fill="#000" stroke="#000" stroke-width="0.4">Dollar</text>
<text x="234.00" y="82.0" textLength="41.53" lengthAdjust="spacingAndGlyphs" style="font-family:'Liberation Sans',sans-serif;font-weight:bold;font-size:14.0px" fill="#000" stroke="#000" stroke-width="0.4">Index</text>
<text x="281.97" y="82.0" textLength="18.06" lengthAdjust="spacingAndGlyphs" style="font-family:'Liberation Sans',sans-serif;font-weight:bold;font-size:14.0px" fill="#000" stroke="#000" stroke-width="0.4">D1</text>
<text x="308.98" y="82.0" textLength="78.03" lengthAdjust="spacingAndGlyphs" style="font-family:'Liberation Sans',sans-serif;font-weight:bold;font-size:14.0px" fill="#000" stroke="#000" stroke-width="0.4">timeframe</text>
<text x="255.98" y="158.0" textLength="17.03" lengthAdjust="spacingAndGlyphs" style="font-family:'Liberation Sans',sans-serif;font-weight:bold;font-size:13.8px" fill="#ff0000" stroke="#ff0000" stroke-width="0.5">20</text>
<text x="279.99" y="158.0" textLength="33.54" lengthAdjust="spacingAndGlyphs" style="font-family:'Liberation Sans',sans-serif;font-weight:bold;font-size:13.8px" fill="#ff0000" stroke="#ff0000" stroke-width="0.5">SMA</text>
<text x="93.02" y="218.0" textLength="26.51" lengthAdjust="spacingAndGlyphs" style="font-family:'Liberation Sans',sans-serif;font-weight:bold;font-size:13.8px" fill="#000080" stroke="#000080" stroke-width="0.5">100</text>
<text x="126.75" y="218.0" textLength="33.76" lengthAdjust="spacingAndGlyphs" style="font-family:'Liberation Sans',sans-serif;font-weight:bold;font-size:13.8px" fill="#000080" stroke="#000080" stroke-width="0.5">SMA</text>
<text x="147.47" y="277.8" textLength="41.07" lengthAdjust="spacingAndGlyphs" style="font-family:'Liberation Sans',sans-serif;font-weight:bold;font-size:14.1px" fill="#000" stroke="#000" stroke-width="0.6">94.65</text>
<text x="195.01" y="277.8" textLength="36.50" lengthAdjust="spacingAndGlyphs" style="font-family:'Liberation Sans',sans-serif;font-weight:bold;font-size:14.1px" fill="#000" stroke="#000" stroke-width="0.6">level</text>
<text x="154.47" y="320.8" textLength="41.55" lengthAdjust="spacingAndGlyphs" style="font-family:'Liberation Sans',sans-serif;font-weight:bold;font-size:14.1px" fill="#000" stroke="#000" stroke-width="0.6">94.00</text>
<text x="202.47" y="320.8" textLength="35.03" lengthAdjust="spacingAndGlyphs" style="font-family:'Liberation Sans',sans-serif;font-weight:bold;font-size:14.1px" fill="#000" stroke="#000" stroke-width="0.6">level</text>
<text x="129.99" y="371.2" textLength="34.03" lengthAdjust="spacingAndGlyphs" style="font-family:'Liberation Sans',sans-serif;font-weight:bold;font-size:12.2px" fill="#000" stroke="#000" stroke-width="0.5">92.00</text>
<text x="169.50" y="371.2" textLength="30.00" lengthAdjust="spacingAndGlyphs" style="font-family:'Liberation Sans',sans-serif;font-weight:bold;font-size:12.2px" fill="#000" stroke="#000" stroke-width="0.5">level</text>
<text x="233.47" y="422.6" textLength="32.83" lengthAdjust="spacingAndGlyphs" style="font-family:'Liberation Sans',sans-serif;font-weight:bold;font-size:12.0px" fill="#000" stroke="#000" stroke-width="0.5">90.00</text>
<text x="272.50" y="422.6" textLength="30.00" lengthAdjust="spacingAndGlyphs" style="font-family:'Liberation Sans',sans-serif;font-weight:bold;font-size:12.0px" fill="#000" stroke="#000" stroke-width="0.5">level</text>
<text x="403.69" y="441.6" textLength="32.84" lengthAdjust="spacingAndGlyphs" style="font-family:'Liberation Sans',sans-serif;font-weight:bold;font-size:12.0px" fill="#000" stroke="#000" stroke-width="0.5">88.30</text>
<text x="442.49" y="441.6" textLength="30.03" lengthAdjust="spacingAndGlyphs" style="font-family:'Liberation Sans',sans-serif;font-weight:bold;font-size:12.0px" fill="#000" stroke="#000" stroke-width="0.5">level</text>
<path d="M616.5 10.3H619" stroke="#404040" stroke-width="1"/>
<text x="621.0" y="13.879599999999858" style="font-family:'Liberation Sans',sans-serif;font-size:8.4px" fill="#1a1a1a" letter-spacing="0.15">105.20</text>
<path d="M616.5 49.6H619" stroke="#404040" stroke-width="1"/>
<text x="621.0" y="53.13009999999987" style="font-family:'Liberation Sans',sans-serif;font-size:8.4px" fill="#1a1a1a" letter-spacing="0.15">103.70</text>
<path d="M616.5 88.8H619" stroke="#404040" stroke-width="1"/>
<text x="621.0" y="92.38059999999989" style="font-family:'Liberation Sans',sans-serif;font-size:8.4px" fill="#1a1a1a" letter-spacing="0.15">102.20</text>
<path d="M616.5 128.1H619" stroke="#404040" stroke-width="1"/>
<text x="621.0" y="131.6310999999999" style="font-family:'Liberation Sans',sans-serif;font-size:8.4px" fill="#1a1a1a" letter-spacing="0.15">100.70</text>
<path d="M616.5 167.3H619" stroke="#404040" stroke-width="1"/>
<text x="621.0" y="170.8815999999999" style="font-family:'Liberation Sans',sans-serif;font-size:8.4px" fill="#1a1a1a" letter-spacing="0.15">99.20</text>
<path d="M616.5 206.6H619" stroke="#404040" stroke-width="1"/>
<text x="621.0" y="210.13209999999992" style="font-family:'Liberation Sans',sans-serif;font-size:8.4px" fill="#1a1a1a" letter-spacing="0.15">97.70</text>
<path d="M616.5 245.8H619" stroke="#404040" stroke-width="1"/>
<text x="621.0" y="249.3825999999999" style="font-family:'Liberation Sans',sans-serif;font-size:8.4px" fill="#1a1a1a" letter-spacing="0.15">96.20</text>
<path d="M616.5 285.1H619" stroke="#404040" stroke-width="1"/>
<text x="621.0" y="288.6330999999999" style="font-family:'Liberation Sans',sans-serif;font-size:8.4px" fill="#1a1a1a" letter-spacing="0.15">94.70</text>
<path d="M616.5 324.3H619" stroke="#404040" stroke-width="1"/>
<text x="621.0" y="327.88359999999994" style="font-family:'Liberation Sans',sans-serif;font-size:8.4px" fill="#1a1a1a" letter-spacing="0.15">93.20</text>
<path d="M616.5 363.6H619" stroke="#404040" stroke-width="1"/>
<text x="621.0" y="367.13409999999993" style="font-family:'Liberation Sans',sans-serif;font-size:8.4px" fill="#1a1a1a" letter-spacing="0.15">91.70</text>
<path d="M616.5 442.1H619" stroke="#404040" stroke-width="1"/>
<text x="621.0" y="445.6350999999999" style="font-family:'Liberation Sans',sans-serif;font-size:8.4px" fill="#1a1a1a" letter-spacing="0.15">88.70</text>
<rect x="618" y="299.8" width="24" height="9.8" fill="#000"/>
<rect x="618" y="333.8" width="24" height="9.8" fill="#000"/>
<rect x="618" y="352.1" width="24" height="9.8" fill="#000"/>
<rect x="618" y="425.4" width="24" height="9.8" fill="#000"/>
<rect x="618" y="449.0" width="24" height="9.8" fill="#000"/>
<rect x="618" y="392.1" width="24" height="22.5" fill="#000"/>
<clipPath id="c17"><rect x="618" y="402.2" width="24" height="3.0"/></clipPath>
<text x="620.6" y="405.3" style="font-family:'Liberation Sans',sans-serif;font-size:9.4px" fill="#fff" textLength="23.02" lengthAdjust="spacingAndGlyphs" clip-path="url(#c17)">90.17</text>
<text x="620.6" y="308.7" style="font-family:'Liberation Sans',sans-serif;font-size:9.4px" fill="#fff" textLength="23.02" lengthAdjust="spacingAndGlyphs">94.00</text>
<text x="620.6" y="342.7170999999999" style="font-family:'Liberation Sans',sans-serif;font-size:9.4px" fill="#fff" textLength="23.02" lengthAdjust="spacingAndGlyphs">92.70</text>
<text x="620.6" y="361.034" style="font-family:'Liberation Sans',sans-serif;font-size:9.4px" fill="#fff" textLength="23.02" lengthAdjust="spacingAndGlyphs">92.00</text>
<text x="620.6" y="400.2845" style="font-family:'Liberation Sans',sans-serif;font-size:9.4px" fill="#fff" textLength="23.02" lengthAdjust="spacingAndGlyphs">90.50</text>
<text x="620.6" y="434.30159999999995" style="font-family:'Liberation Sans',sans-serif;font-size:9.4px" fill="#fff" textLength="23.02" lengthAdjust="spacingAndGlyphs">89.20</text>
<text x="620.6" y="457.85190000000006" style="font-family:'Liberation Sans',sans-serif;font-size:9.4px" fill="#fff" textLength="23.02" lengthAdjust="spacingAndGlyphs">88.30</text>
<text x="620.6" y="413.368" style="font-family:'Liberation Sans',sans-serif;font-size:9.4px" fill="#fff" textLength="23.02" lengthAdjust="spacingAndGlyphs">90.00</text>
<path d="M68.6 464V466.5" stroke="#404040" stroke-width="1"/>
<text x="68.60000000000001" y="474.6" style="font-family:'Liberation Sans',sans-serif;font-size:8.3px" fill="#1a1a1a">13 Mar 2020</text>
<path d="M145.4 464V466.5" stroke="#404040" stroke-width="1"/>
<text x="145.4" y="474.6" style="font-family:'Liberation Sans',sans-serif;font-size:8.3px" fill="#1a1a1a">28 Apr 2020</text>
<path d="M222.2 464V466.5" stroke="#404040" stroke-width="1"/>
<text x="222.2" y="474.6" style="font-family:'Liberation Sans',sans-serif;font-size:8.3px" fill="#1a1a1a">11 Jun 2020</text>
<path d="M299.0 464V466.5" stroke="#404040" stroke-width="1"/>
<text x="298.99999999999994" y="474.6" style="font-family:'Liberation Sans',sans-serif;font-size:8.3px" fill="#1a1a1a">27 Jul 2020</text>
<path d="M375.8 464V466.5" stroke="#404040" stroke-width="1"/>
<text x="375.79999999999995" y="474.6" style="font-family:'Liberation Sans',sans-serif;font-size:8.3px" fill="#1a1a1a">9 Sep 2020</text>
<path d="M452.6 464V466.5" stroke="#404040" stroke-width="1"/>
<text x="452.59999999999997" y="474.6" style="font-family:'Liberation Sans',sans-serif;font-size:8.3px" fill="#1a1a1a">23 Oct 2020</text>
<path d="M529.4 464V466.5" stroke="#404040" stroke-width="1"/>
<text x="529.4" y="474.6" style="font-family:'Liberation Sans',sans-serif;font-size:8.3px" fill="#1a1a1a">8 Dec 2020</text>
<text x="-8.4" y="474.6" style="font-family:'Liberation Sans',sans-serif;font-size:8.3px" fill="#1a1a1a">29 Jan 2020</text>
<text x="-0.3" y="11.3" style="font-family:'Liberation Sans',sans-serif;font-size:8.2px" fill="#1a1a1a" textLength="34" lengthAdjust="spacingAndGlyphs">DXY,Daily</text>
<text x="39.6" y="11.3" style="font-family:'Liberation Sans',sans-serif;font-size:8.4px" fill="#1a1a1a" letter-spacing="0.2">90.38</text>
<text x="63.6" y="11.3" style="font-family:'Liberation Sans',sans-serif;font-size:8.4px" fill="#1a1a1a" letter-spacing="0.2">90.40</text>
<text x="86.8" y="11.3" style="font-family:'Liberation Sans',sans-serif;font-size:8.4px" fill="#1a1a1a" letter-spacing="0.2">90.03</text>
<text x="110.5" y="11.3" style="font-family:'Liberation Sans',sans-serif;font-size:8.4px" fill="#1a1a1a" letter-spacing="0.2">90.17</text>
</svg></body></html>
